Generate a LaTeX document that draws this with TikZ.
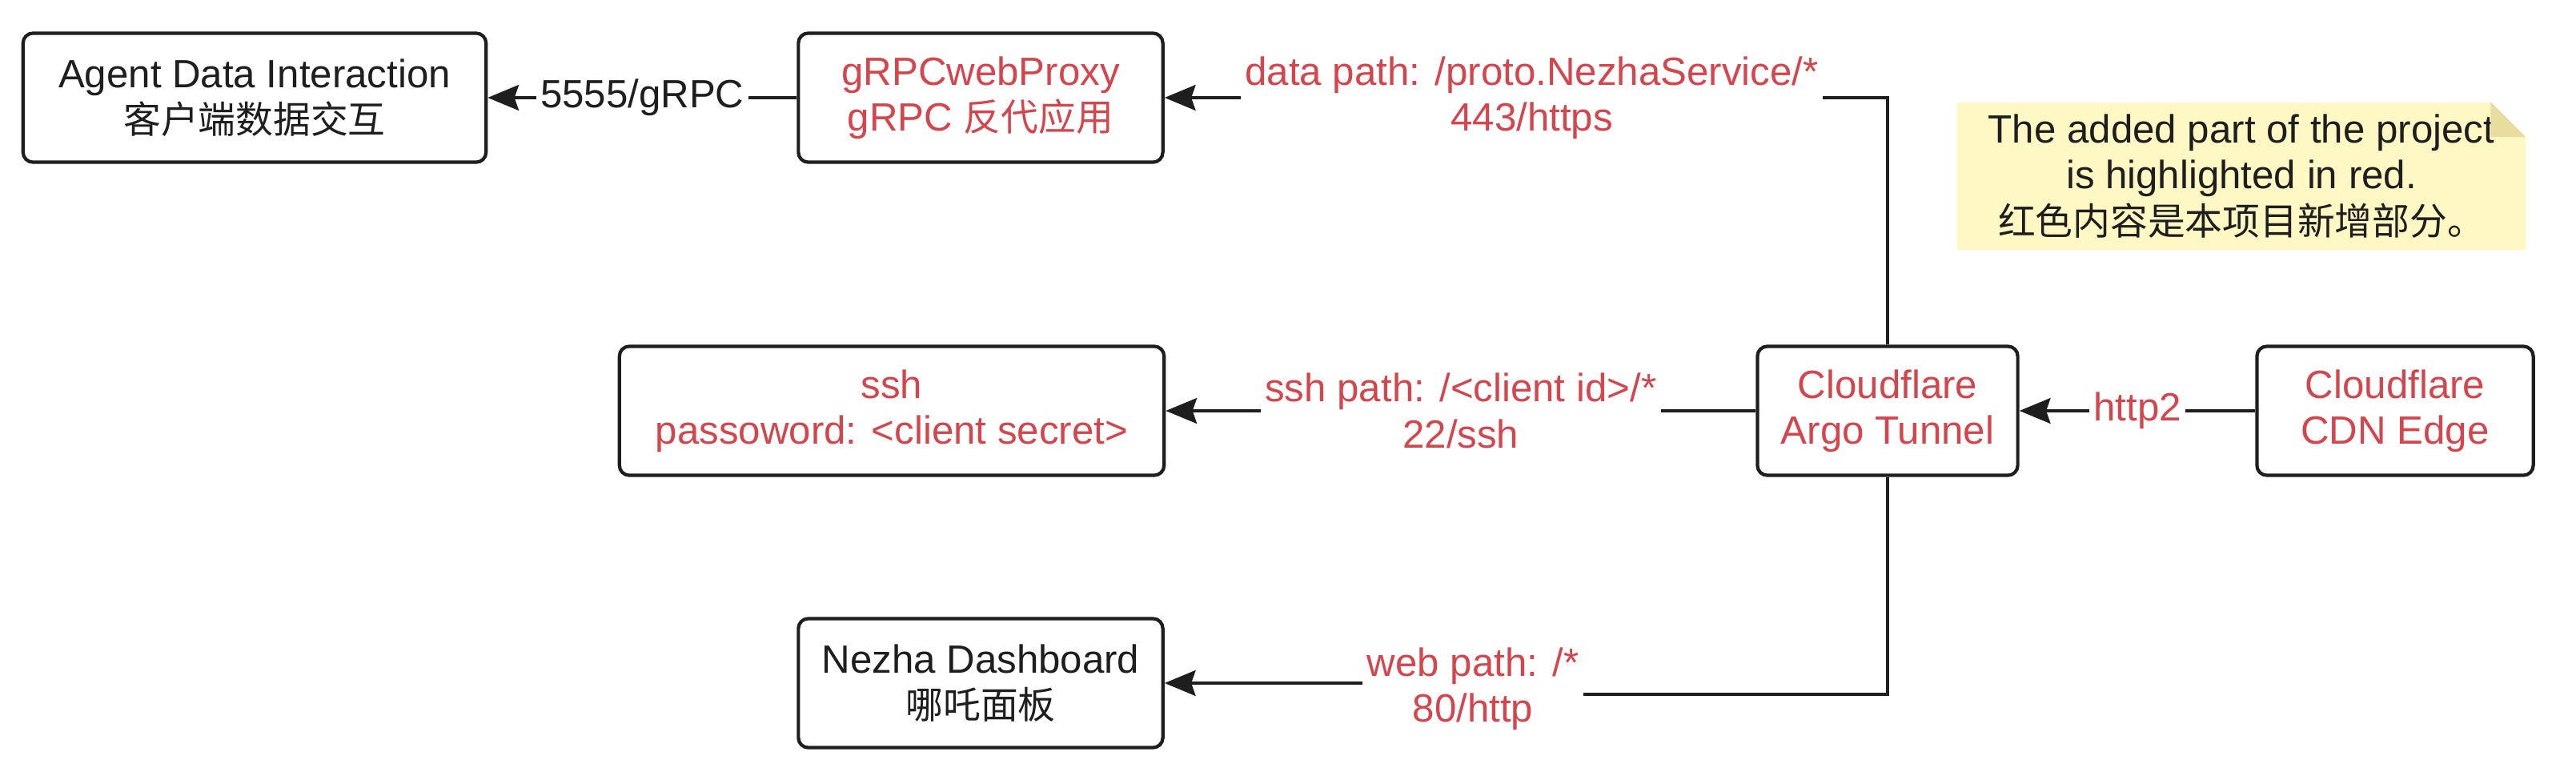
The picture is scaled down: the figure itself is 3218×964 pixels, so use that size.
\documentclass[tikz,border=0pt]{standalone}
\usepackage{fontspec}
\setmainfont{Liberation Sans}
\newfontfamily\cjk[Scale=0.95]{Noto Sans CJK SC}
\usetikzlibrary{arrows.meta}
\definecolor{addred}{RGB}{212,70,78}
\definecolor{ink}{RGB}{30,30,30}
\definecolor{notefill}{RGB}{255,247,196}
\definecolor{notefold}{RGB}{232,220,158}

\begin{document}
\begin{tikzpicture}[x=0.01cm,y=-0.01cm,
  every node/.style={font=\fontsize{14}{16.3}\selectfont,align=center,text=ink},
  box/.style={draw=ink,line width=1.2pt,rounded corners=3.5pt,fill=white,inner sep=0pt,minimum height=1.61cm},
  lbl/.style={fill=white,inner sep=1.5pt},
  link/.style={draw=ink,line width=1.2pt,-{Stealth[length=11pt,width=9pt,inset=1.5pt]}},
  new/.style={text=addred}]
\useasboundingbox (0,0) rectangle (3218,964);
\node[box,minimum width=5.78cm] (agent) at (318,122) {Agent Data Interaction\\{\cjk 客户端数据交互}};
\node[box,new,minimum width=4.55cm] (grpc) at (1225,122) {gRPCwebProxy\\gRPC {\cjk 反代应用}};
\node[box,new,minimum width=6.8cm] (ssh) at (1114,513) {ssh\\passoword: <client secret>};
\node[box,new,minimum width=3.25cm] (argo) at (2358,513) {Cloudflare\\Argo Tunnel};
\node[box,new,minimum width=3.45cm] (cdn) at (2992,513) {Cloudflare\\CDN Edge};
\node[box,minimum width=4.55cm] (nezha) at (1225,853) {Nezha Dashboard\\{\cjk 哪吒面板}};
% note in the corner
\node[fill=notefill,minimum width=7.09cm,minimum height=1.84cm,inner sep=0pt] (note) at (2800,220) {The added part of the project\\is highlighted in red.\\{\cjk 红色内容是本项目新增部分。}};
\fill[white] (note.north east) -- ++(-44,0) -- ++(44,44) -- cycle;
\fill[notefold] ([xshift=-0.44cm]note.north east) -- ++(0,44) -- ++(44,0) -- cycle;
% connectors
\draw[link] (grpc) -- node[lbl]{5555/gRPC} (agent);
\draw[link] (argo.north) |- node[lbl,new,pos=0.746]{data path: /proto.NezhaService/*\\443/https} (grpc);
\draw[link] (argo) -- node[lbl,new]{ssh path: /<client id>/*\\22/ssh} (ssh);
\draw[link] (cdn) -- node[lbl,new]{http2} (argo);
\draw[link] (argo.south) |- (1840,867) -- node[lbl,new]{web path: /*\\80/http} (1840,853) -- (nezha);
\end{tikzpicture}
\end{document}
